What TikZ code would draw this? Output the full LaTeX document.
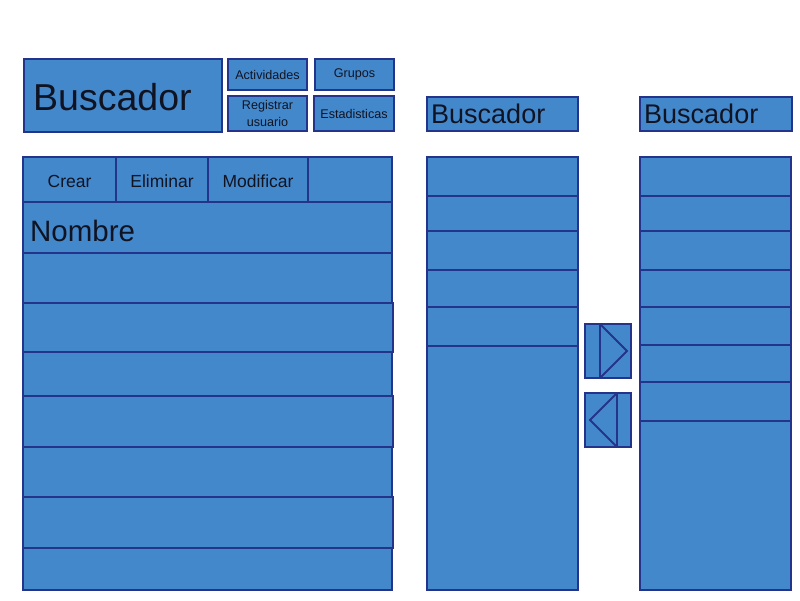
\documentclass[tikz,border=0pt]{standalone}
\usepackage{fontspec}
\setmainfont{Liberation Sans}
\usepackage{xcolor}
\usetikzlibrary{positioning,calc}
\definecolor{panelfill}{RGB}{68,136,204}
\definecolor{panelline}{RGB}{36,52,138}
\definecolor{labeltext}{RGB}{16,20,34}

\tikzset{
  box/.style={fill=panelfill,draw=panelline,line width=1.8pt},
  lbl/.style={text=labeltext,inner sep=0pt},
}

\begin{document}
\begin{tikzpicture}[x=1pt,y=-1pt]
\useasboundingbox (0,0) rectangle (800,600);

% top-left search block
\draw[box] (24,59) rectangle (222,132);
\node[lbl,anchor=west,font=\fontsize{37.5}{40}\selectfont] (busc) at (33,97) {Buscador};
\foreach \xa/\ya/\xb/\yb/\nm/\txt in {
   228/59/307/90/act/{Actividades},
   315/59/394/90/grp/{Grupos},
   228/96/307/131/reg/{Registrar\\usuario},
   314/96/394/131/est/{Estadisticas}}{
  \draw[box] (\xa,\ya) rectangle (\xb,\yb);
  \node[lbl,align=center,font=\fontsize{12.6}{17}\selectfont] (\nm) at ({(\xa+\xb)/2},{(\ya+\yb)/2}) {\txt};
}

% main list
\draw[box] (23,157) rectangle (392,590);
\draw[box] (23,157) rectangle (392,202);
\foreach \xa/\xb/\nm/\txt in {23/116/crear/Crear, 116/208/elim/Eliminar, 208/308/modif/Modificar}{
  \draw[box] (\xa,157) rectangle (\xb,202);
  \node[lbl,font=\fontsize{17.5}{20}\selectfont] (\nm) at ({(\xa+\xb)/2},181) {\txt};
}
\draw[box] (23,202) rectangle (392,253);
\node[lbl,anchor=west,font=\fontsize{29.5}{32}\selectfont] (nombre) at (30,231) {Nombre};
\foreach \ya/\yb/\xr in {253/303/392, 303/352/393, 352/396/392, 396/447/393,
                         447/497/392, 497/548/393, 548/590/392}{
  \draw[box] (23,\ya) rectangle (\xr,\yb);
}

% middle list
\draw[box] (427,97) rectangle (578,131);
\node[lbl,anchor=west,font=\fontsize{27}{30}\selectfont] (buscm) at (431,114) {Buscador};
\draw[box] (427,157) rectangle (578,590);
\foreach \ya/\yb in {157/196, 196/231, 231/270, 270/307, 307/346}{
  \draw[box] (427,\ya) rectangle (578,\yb);
}

% right list
\draw[box] (640,97) rectangle (792,131);
\node[lbl,anchor=west,font=\fontsize{27}{30}\selectfont] (buscr) at (644,114) {Buscador};
\draw[box] (640,157) rectangle (791,590);
\foreach \ya/\yb in {157/196, 196/231, 231/270, 270/307, 307/345, 345/382, 382/421}{
  \draw[box] (640,\ya) rectangle (791,\yb);
}

% move buttons
\draw[box] (585,324) rectangle (631,378);
\draw[panelline,line width=1.8pt] (600,324) -- (600,378);
\draw[panelline,line width=1.8pt,line join=miter] (600,324) -- (627,351) -- (600,378);
\draw[box] (585,393) rectangle (631,447);
\draw[panelline,line width=1.8pt] (617,393) -- (617,447);
\draw[panelline,line width=1.8pt,line join=miter] (617,393) -- (590,420) -- (617,447);

\end{tikzpicture}
\end{document}
